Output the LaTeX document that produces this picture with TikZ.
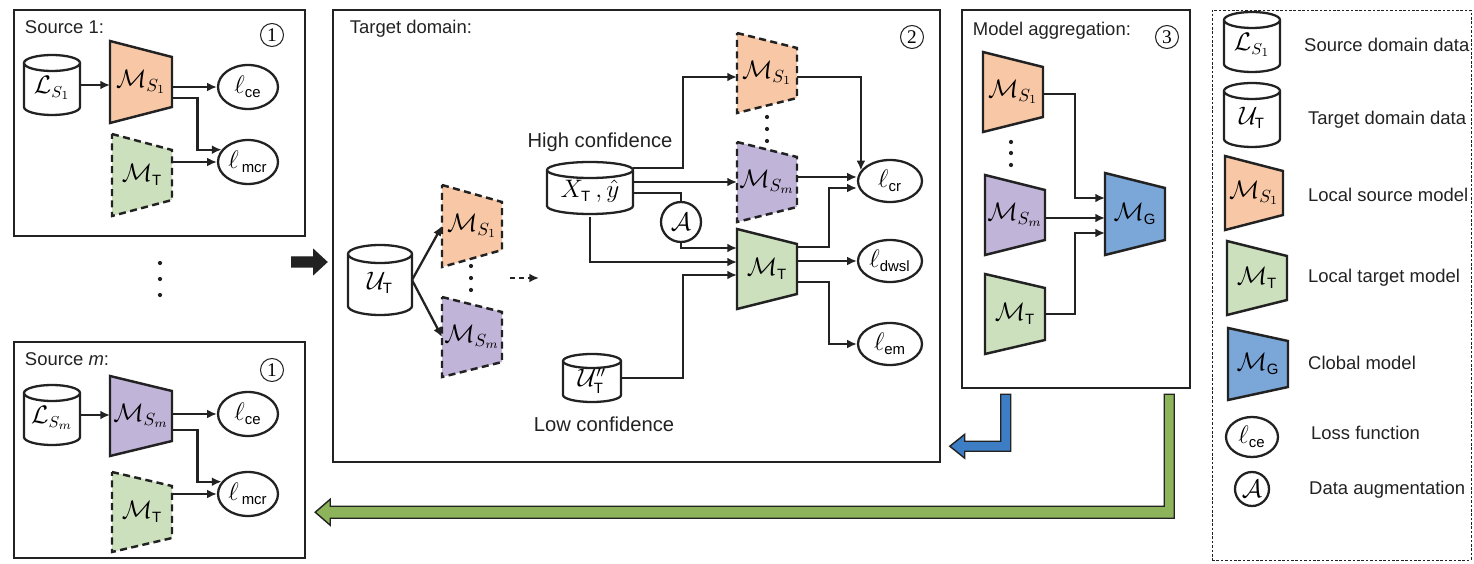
\documentclass[tikz,border=0pt]{standalone}
\usepackage{amsmath}
\usepackage[no-math]{fontspec}
\setmainfont{Liberation Sans}
\newfontfamily\numfont{Liberation Serif}
\usetikzlibrary{shapes.geometric,arrows.meta,calc,fit}

\definecolor{srcorange}{HTML}{F8C8A6}
\definecolor{srcpurple}{HTML}{C0B4D8}
\definecolor{tgtgreen}{HTML}{CDE0BE}
\definecolor{glbblue}{HTML}{7AA6D8}
\definecolor{arrblue}{HTML}{3C7DC4}
\definecolor{arrgreen}{HTML}{8DB45B}
\definecolor{ink}{HTML}{222222}

% small upright sans subscript text
\newcommand\stx[1]{\text{\fontsize{8.5}{9}\selectfont #1}}

% trapezoid model block: name, centre, half width, half left side, half right side, style, label
\newcommand\trapz[7]{%
  \coordinate (#1-c) at (#2);
  \draw[#6] ($(#1-c)+(-#3,-#4)$) -- ($(#1-c)+(#3,-#5)$) -- ($(#1-c)+(#3,#5)$) -- ($(#1-c)+(-#3,#4)$) -- cycle;
  \node[trapnode, minimum width={2*#3*0.02cm}, minimum height={2*#5*0.02cm}] (#1) at (#1-c) {#7};
}
% database cylinder: name, centre, half width, half height, cap radius, label
\newcommand\dbcyl[6]{%
  \coordinate (#1-c) at (#2);
  \draw[cylstyle] ($(#1-c)+(-#3,-#4+#5)$) -- ($(#1-c)+(-#3,#4-#5)$)
     arc[start angle=180,end angle=360,x radius={#3*0.02cm},y radius={#5*0.02cm}]
     -- ($(#1-c)+(#3,-#4+#5)$)
     arc[start angle=0,end angle=180,x radius={#3*0.02cm},y radius={#5*0.02cm}] -- cycle;
  \draw[cylstyle] ($(#1-c)+(-#3,-#4+#5)$)
     arc[start angle=180,end angle=360,x radius={#3*0.02cm},y radius={#5*0.02cm}];
  \node[cylnode, minimum width={2*#3*0.02cm}, minimum height={2*#4*0.02cm}] (#1) at ($(#1-c)+(0,3)$) {#6};
}

\tikzset{
  panelbox/.style={draw=ink, line width=1.4pt, inner sep=0pt},
  legendbox/.style={draw=ink, line width=0.5pt, dash pattern=on 1.5pt off 1pt, inner sep=0pt},
  title/.style={anchor=west, text=ink, font=\fontsize{10.5}{12}\selectfont},
  note/.style={text=ink, font=\fontsize{11.5}{13}\selectfont},
  legtext/.style={anchor=west, text=ink, font=\fontsize{10.5}{12}\selectfont},
  circnum/.style={circle, draw=ink, line width=0.6pt, inner sep=0pt, minimum size=0.46cm, font=\numfont\fontsize{11}{12}\selectfont},
  trapnode/.style={inner sep=0pt, outer sep=0pt, font=\fontsize{14}{16}\selectfont},
  cylnode/.style={inner sep=0pt, outer sep=0pt, font=\fontsize{13.5}{16}\selectfont},
  cylstyle/.style={draw=ink, line width=1.3pt, fill=white},
  solidtrap/.style={draw=ink, line width=1.4pt, line join=miter},
  dashtrap/.style={draw=ink, line width=1.4pt, dash pattern=on 4pt off 2.5pt},
  loss/.style={ellipse, draw=ink, line width=1.3pt, minimum width=1.2cm, minimum height=0.88cm, inner sep=0pt, font=\fontsize{14}{16}\selectfont},
  augnode/.style={circle, draw=ink, line width=1.3pt, minimum size=0.8cm, inner sep=0pt, font=\fontsize{14}{16}\selectfont},
  dotnode/.style={circle, fill=ink, inner sep=0pt, minimum size=2.4pt},
  conn/.style={draw=ink, line width=1.3pt, -{Latex[length=5.5pt,width=5pt]}},
  connl/.style={draw=ink, line width=1.3pt},
  fat/.style={draw=ink, line width=0.8pt, line join=miter},
}

\begin{document}
\begin{tikzpicture}[x=0.02cm, y=-0.02cm]
\useasboundingbox (0,0) rectangle (1474,564);

% ---------------- panels ----------------
\node[panelbox, fit={(14,10) (305,236)}] (src1) {};
\node[panelbox, fit={(14,342) (305,558)}] (srcm) {};
\node[panelbox, fit={(333,10) (940,462)}] (tgt) {};
\node[panelbox, fit={(962,10) (1190,388)}] (agg) {};
\node[legendbox, fit={(1212,10) (1471,560)}] (leg) {};

\node[title] (t1) at ($(src1.north west)+(6,18)$) {Source 1:};
\node[title] (tm) at ($(srcm.north west)+(6,18)$) {Source \textit{m}:};
\node[title] (tt) at ($(tgt.north west)+(12,20)$) {Target domain:};
\node[title] (ta) at ($(agg.north west)+(6,22)$) {Model aggregation:};

\node[circnum] (n1) at (272,35) {1};
\node[circnum] (n1m) at (272,370) {1};
\node[circnum] (n2) at (912,37) {2};
\node[circnum] (n3) at (1167,37) {3};

% ---------------- source 1 ----------------
\dbcyl{ls1}{52,85}{28}{30}{8}{$\mathcal{L}_{S_1}$}
\trapz{ms1a}{141,82}{31}{41}{25}{solidtrap, fill=srcorange}{$\mathcal{M}_{S_1}$}
\trapz{mt1}{142,175}{30}{41}{25}{dashtrap, fill=tgtgreen}{$\mathcal{M}_{\stx{T}}$}
\node[loss] (lce1) at (248,87) {$\ell_{\stx{ce}}$};
\node[loss] (lmcr1) at (248,162) {$\ell_{\,\stx{mcr}}$};
\draw[conn] (ls1.east |- ls1-c) -- (ls1-c -| ms1a.west);
\draw[conn] (lce1.west -| ms1a.east) -- (lce1.west);
\draw[conn] ($(ms1a.east)+(0,16)$) -| ($(lmcr1.155)+(-24,0)$) -- (lmcr1.155);
\draw[conn] (lmcr1.west -| mt1.east) -- (lmcr1.west);

\node[dotnode] (sd1) at (160,263) {};
\node[dotnode] (sd2) at (160,279) {};
\node[dotnode] (sd3) at (160,295) {};

% ---------------- source m ----------------
\dbcyl{lsm}{52,415}{28}{30}{8}{$\mathcal{L}_{S_m}$}
\trapz{msma}{141,416}{31}{40}{25}{solidtrap, fill=srcpurple}{$\mathcal{M}_{S_m}$}
\trapz{mtm}{142,512}{30}{40}{26}{dashtrap, fill=tgtgreen}{$\mathcal{M}_{\stx{T}}$}
\node[loss] (lce2) at (248,414) {$\ell_{\stx{ce}}$};
\node[loss] (lmcrm) at (248,494) {$\ell_{\,\stx{mcr}}$};
\draw[conn] (ls1.east |- lsm-c) -- (lsm-c -| msma.west);
\draw[conn] (lce2.west -| msma.east) -- (lce2.west);
\draw[conn] ($(msma.east)+(0,14)$) -| ($(lmcrm.155)+(-24,0)$) -- (lmcrm.155);
\draw[conn] (lmcrm.west -| mtm.east) -- (lmcrm.west);

% ---------------- target domain ----------------
\dbcyl{ut}{380,280}{32}{35}{9}{$\mathcal{U}_{\stx{T}}$}
\trapz{ms1b}{472,226}{30}{41}{24}{dashtrap, fill=srcorange}{$\mathcal{M}_{S_1}$}
\trapz{msmb}{472,337}{30}{40}{25}{dashtrap, fill=srcpurple}{$\mathcal{M}_{S_m}$}
\node[dotnode] (td1) at (471,266) {};
\node[dotnode] (td2) at (471,278) {};
\node[dotnode] (td3) at (471,290) {};
\draw[conn] (ut.east |- ut-c) -- (ms1b.west);
\draw[conn] (ut.east |- ut-c) -- (msmb.west);
\coordinate (da1) at (510,278);
\coordinate (da2) at (539,278);
\draw[conn, dash pattern=on 3pt off 2pt] (da1) -- (da2);

\node[note] (hc) at (600,142) {High confidence};
\dbcyl{xt}{590,188}{43}{26}{8}{$X_{\stx{T}}\,,\hat{y}$}
\dbcyl{uu}{592,378}{29}{24}{7}{$\mathcal{U}''_{\stx{T}}$}
\node[note] (lc) at (604,424) {Low confidence};

\trapz{ms1c}{767,73}{30}{40}{25}{dashtrap, fill=srcorange}{$\mathcal{M}_{S_1}$}
\trapz{msmc}{767,182}{30}{40}{25}{dashtrap, fill=srcpurple}{$\mathcal{M}_{S_m}$}
\trapz{mtc}{767,269}{30}{40}{25}{solidtrap, fill=tgtgreen}{$\mathcal{M}_{\stx{T}}$}
\node[dotnode] (td4) at (767,117) {};
\node[dotnode] (td5) at (767,129) {};
\node[dotnode] (td6) at (767,141) {};
\node[augnode] (aug) at (681,222) {$\mathcal{A}$};

\node[loss, minimum width=1.28cm, minimum height=0.84cm] (lcr) at (890,181) {$\ell_{\stx{cr}}$};
\node[loss, minimum width=1.28cm, minimum height=0.84cm] (ldwsl) at (890,261) {$\ell_{\stx{dwsl}}$};
\node[loss, minimum width=1.28cm, minimum height=0.84cm] (lem) at (890,344) {$\ell_{\stx{em}}$};

% high-confidence samples feed the source models and the target model
\draw[conn] ($(xt.east |- xt-c)+(0,-20)$) -| ($(ms1c.west)+(-54,4)$) -- ($(ms1c.west)+(0,4)$);
\draw[conn] (xt.east |- msmc.west) -- (msmc.west);
\draw[connl] ($(xt.east |- xt-c)+(0,5)$) -| (aug.north);
\draw[conn] (aug.south) |- ($(mtc.west)+(0,-21)$);
\draw[conn] (xt-c |- xt.south) |- ($(mtc.west)+(0,-7)$);
\draw[conn] (uu.east |- uu-c) -| ($(mtc.west)+(-54,6)$) -- ($(mtc.west)+(0,6)$);

% model outputs to the losses
\draw[conn] ($(ms1c.east)+(0,4)$) -| (lcr.160);
\draw[conn] ($(msmc.east)+(0,-5)$) -- ($(lcr.west)+(0,-4)$);
\draw[conn] ($(mtc.east)+(0,-22)$) -| ($(lcr.west)+(-28,7)$) -- ($(lcr.west)+(0,7)$);
\draw[conn] (ldwsl.west -| mtc.east) -- (ldwsl.west);
\draw[conn] ($(mtc.east)+(0,13)$) -| ($(lem.west)+(-28,0)$) -- (lem.west);

% ---------------- model aggregation ----------------
\trapz{ms1d}{1013,92}{30}{40}{25}{solidtrap, fill=srcorange}{$\mathcal{M}_{S_1}$}
\trapz{msmd}{1015,215}{30}{40}{25}{solidtrap, fill=srcpurple}{$\mathcal{M}_{S_m}$}
\trapz{mtd}{1015,314}{30}{40}{26}{solidtrap, fill=tgtgreen}{$\mathcal{M}_{\stx{T}}$}
\trapz{mg}{1135,214}{30}{41}{26}{solidtrap, fill=glbblue}{$\mathcal{M}_{\stx{G}}$}
\node[dotnode] (ad1) at (1011,142) {};
\node[dotnode] (ad2) at (1011,153) {};
\node[dotnode] (ad3) at (1011,165) {};
\draw[conn] ($(ms1d.east)+(0,2)$) -| ($(mg.west)+(-30,-16)$) -- ($(mg.west)+(0,-16)$);
\draw[conn] ($(msmd.east)+(0,3)$) -- ($(mg.west)+(0,4)$);
\draw[conn] (mtd.east) -| ($(mg.west)+(-30,19)$) -- ($(mg.west)+(0,19)$);

% ---------------- legend ----------------
\dbcyl{lg1}{1252,42}{28}{30}{8}{$\mathcal{L}_{S_1}$}
\node[legtext] (lt1) at (1298,45) {Source domain data};
\dbcyl{lg2}{1252,115}{28}{32}{8}{$\mathcal{U}_{\stx{T}}$}
\node[legtext] (lt2) at (1302,120) {Target domain data};
\trapz{lg3}{1254,193}{29}{37}{22}{solidtrap, fill=srcorange}{$\mathcal{M}_{S_1}$}
\node[legtext] (lt3) at (1302,195) {Local source model};
\trapz{lg4}{1257,278}{30}{37}{22}{solidtrap, fill=tgtgreen}{$\mathcal{M}_{\stx{T}}$}
\node[legtext] (lt4) at (1302,278) {Local target model};
\trapz{lg5}{1258,364}{30}{36}{23}{solidtrap, fill=glbblue}{$\mathcal{M}_{\stx{G}}$}
\node[legtext] (lt5) at (1302,363) {Clobal model};
\node[loss, minimum width=1.04cm, minimum height=0.8cm] (lg6) at (1252,437) {$\ell_{\stx{ce}}$};
\node[legtext] (lt6) at (1305,433) {Loss function};
\node[augnode, minimum size=0.68cm] (lg7) at (1252,489) {$\mathcal{A}$};
\node[legtext] (lt7) at (1303,490) {Data augmentation};

% ---------------- block arrows ----------------
\coordinate (tw) at (tgt.west);
\draw[fat, fill=ink] ($(tw)+(-40,21)$) -- ($(tw)+(-18,21)$) -- ($(tw)+(-18,14)$) -- ($(tw)+(-5,26)$)
  -- ($(tw)+(-18,38)$) -- ($(tw)+(-18,31)$) -- ($(tw)+(-40,31)$) -- cycle;

\coordinate (aggsw) at (agg.south west);
\draw[fat, fill=arrblue] ($(aggsw)+(40,5)$) -- ($(aggsw)+(50,5)$) -- ($(aggsw)+(50,62)$) -- ($(aggsw)+(4,62)$)
  -- ($(aggsw)+(4,69)$) -- ($(aggsw)+(-11,57)$) -- ($(aggsw)+(4,45)$) -- ($(aggsw)+(4,52)$) -- ($(aggsw)+(40,52)$) -- cycle;

\coordinate (aggse) at (agg.south east);
\coordinate (gref) at (srcm.east |- agg.south east);
\draw[fat, fill=arrgreen] ($(aggse)+(-27,5)$) -- ($(aggse)+(-17,5)$) -- ($(aggse)+(-17,129)$) -- ($(gref)+(24,129)$)
  -- ($(gref)+(24,136)$) -- ($(gref)+(9,123)$) -- ($(gref)+(24,110)$) -- ($(gref)+(24,117)$) -- ($(aggse)+(-27,117)$) -- cycle;

\end{tikzpicture}
\end{document}
